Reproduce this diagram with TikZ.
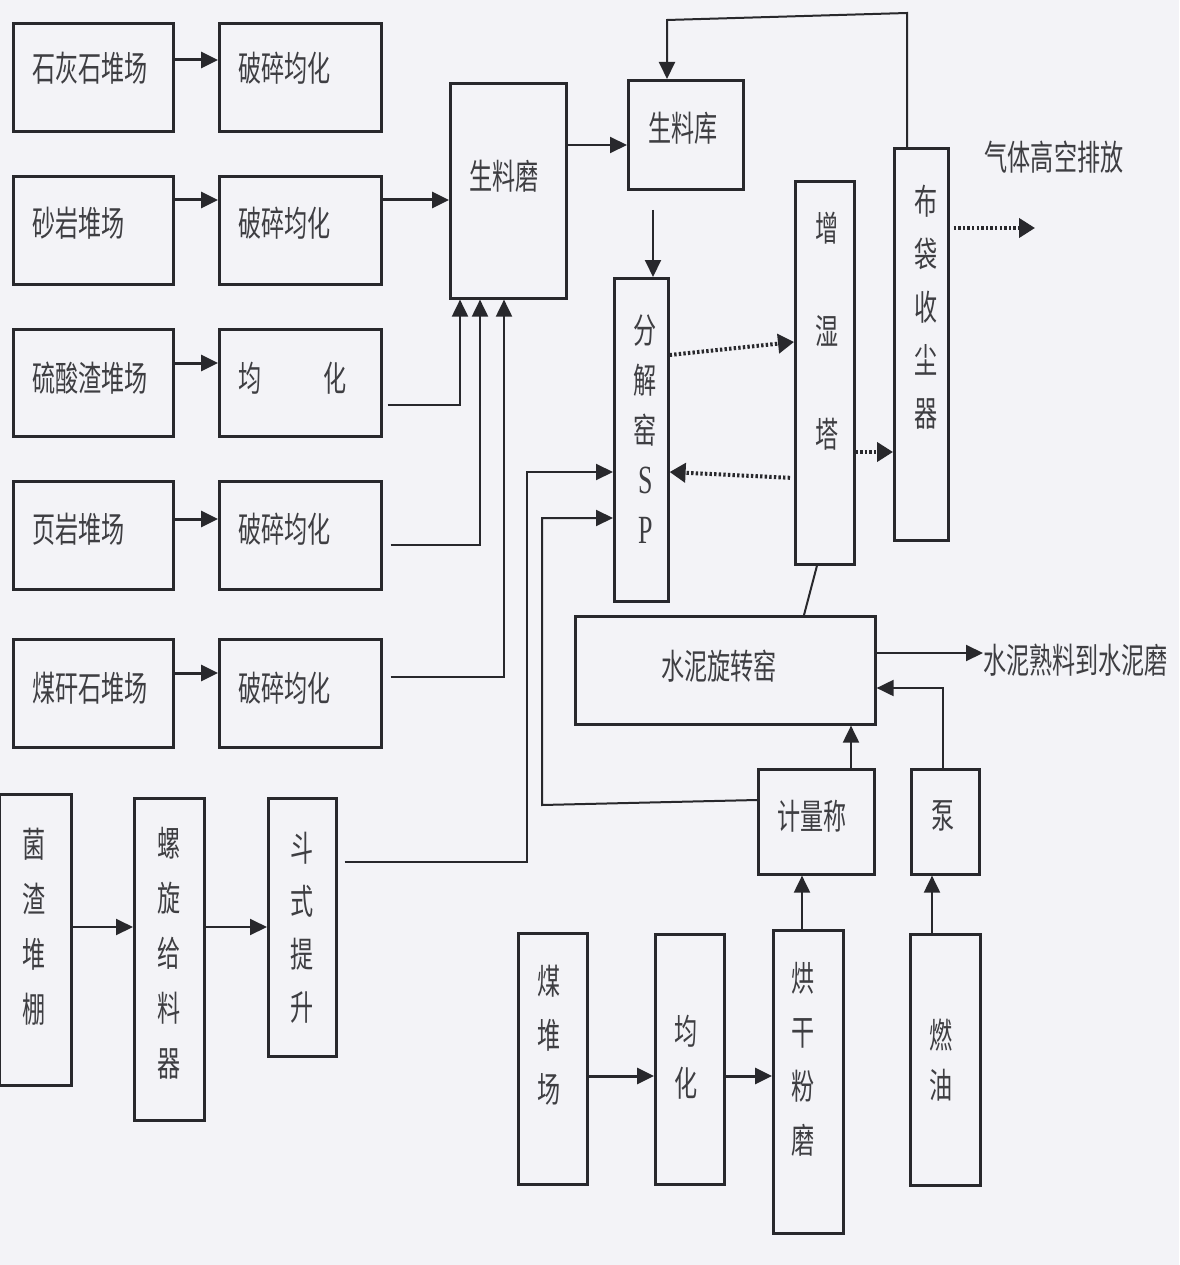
\documentclass[tikz,border=0pt]{standalone}
\usepackage{fontspec}
\usetikzlibrary{arrows.meta}
\newfontfamily\cjk[FakeStretch=0.66]{Noto Sans CJK SC}
\newfontfamily\latser[FakeStretch=0.65]{Liberation Serif}
\definecolor{ink}{RGB}{40,40,44}
\definecolor{txt}{RGB}{62,62,66}
\definecolor{paper}{RGB}{243,243,247}
\begin{document}
\begin{tikzpicture}[x=1pt,y=-1pt,
  box/.style={draw=ink, line width=2.6pt, rectangle, inner sep=0pt, anchor=north west},
  lbl/.style={text=txt, inner sep=0pt, font=\cjk\fontsize{35}{40}\selectfont},
  vt/.style={text=txt, inner sep=0pt, align=center, font=\cjk\fontsize{35}{#1}\selectfont},
  conn/.style={draw=ink, line width=2pt},
  arr/.style={conn, -{Triangle[length=17pt,width=16pt]}},
  thk/.style={arr, line width=3pt},
  dots/.style={draw=ink, line width=4pt, dash pattern=on 2.4pt off 2.2pt, -{Triangle[length=16pt,width=19pt]}},
]
\fill[paper] (0,0) rectangle (1179,1265);
\useasboundingbox (0,0) rectangle (1179,1265);

% left column: stockyards
\node[box, minimum width=160pt, minimum height=108pt, label={[lbl,anchor=west,xshift=20pt,yshift=9pt]west:石灰石堆场}] (s1) at (12,22) {};
\node[box, minimum width=160pt, minimum height=108pt, label={[lbl,anchor=west,xshift=20pt,yshift=7pt]west:砂岩堆场}] (s2) at (12,175) {};
\node[box, minimum width=160pt, minimum height=107pt, label={[lbl,anchor=west,xshift=20pt,yshift=4.5pt]west:硫酸渣堆场}] (s3) at (12,328) {};
\node[box, minimum width=160pt, minimum height=108pt, label={[lbl,anchor=west,xshift=20pt,yshift=6pt]west:页岩堆场}] (s4) at (12,480) {};
\node[box, minimum width=160pt, minimum height=108pt, label={[lbl,anchor=west,xshift=20pt,yshift=5pt]west:煤矸石堆场}] (s5) at (12,638) {};

% second column
\node[box, minimum width=162pt, minimum height=108pt, label={[lbl,anchor=west,xshift=20pt,yshift=9pt]west:破碎均化}] (b1) at (218,22) {};
\node[box, minimum width=162pt, minimum height=108pt, label={[lbl,anchor=west,xshift=20pt,yshift=7pt]west:破碎均化}] (b2) at (218,175) {};
\node[box, minimum width=162pt, minimum height=107pt, label={[lbl,anchor=west,xshift=20pt,yshift=4.5pt]west:{均\hskip 62pt 化}}] (b3) at (218,328) {};
\node[box, minimum width=162pt, minimum height=108pt, label={[lbl,anchor=west,xshift=20pt,yshift=6pt]west:破碎均化}] (b4) at (218,480) {};
\node[box, minimum width=162pt, minimum height=108pt, label={[lbl,anchor=west,xshift=20pt,yshift=5pt]west:破碎均化}] (b5) at (218,638) {};

% main line
\node[box, minimum width=116pt, minimum height=215pt, label={[lbl,xshift=-4pt,yshift=14.5pt]center:生料磨}] (mill) at (449,82) {};
\node[box, minimum width=115pt, minimum height=109pt, label={[lbl,xshift=-3pt,yshift=6.5pt]center:生料库}] (raw) at (627,79) {};
\node[box, minimum width=54pt, minimum height=323pt, label={[vt=50,xshift=4pt,yshift=10.5pt]center:{分\\解\\窑\\{\latser\fontsize{40}{50}\selectfont S}\\{\latser\fontsize{40}{50}\selectfont P}}}] (sp) at (613,277) {};
\node[box, minimum width=59pt, minimum height=383pt, label={[vt=103,xshift=2pt,yshift=41.5pt]center:{增\\湿\\塔}}] (hum) at (794,180) {};
\node[box, minimum width=54pt, minimum height=392pt, label={[vt=53,xshift=5pt,yshift=37pt]center:{布\\袋\\收\\尘\\器}}] (bag) at (893,147) {};
\node[lbl] (gas) at (1054,157) {气体高空排放};
\coordinate (gasEnd) at (1035,228);
\node[box, minimum width=300pt, minimum height=108pt, label={[lbl,xshift=-6pt,yshift=4pt]center:水泥旋转窑}] (kiln) at (574,615) {};
\node[lbl, anchor=west] (clinker) at (983,660) {水泥熟料到水泥磨};
\node[box, minimum width=116pt, minimum height=105pt, label={[lbl,xshift=-4pt,yshift=5.5pt]center:计量称}] (scale) at (757,768) {};
\node[box, minimum width=68pt, minimum height=105pt, label={[lbl,xshift=-2pt,yshift=5.5pt]center:泵}] (pump) at (910,768) {};

% fungal residue line
\node[box, minimum width=72pt, minimum height=291pt, label={[vt=55,xshift=-1pt,yshift=13.5pt]center:{菌\\渣\\堆\\棚}}] (fungal) at (-2,793) {};
\node[box, minimum width=70pt, minimum height=322pt, label={[vt=55,yshift=6.5pt]center:{螺\\旋\\给\\料\\器}}] (screw) at (133,797) {};
\node[box, minimum width=68pt, minimum height=258pt, label={[vt=53,yshift=0pt]center:{斗\\式\\提\\升}}] (lift) at (267,797) {};

% coal / oil line
\node[box, minimum width=69pt, minimum height=251pt, label={[vt=54,xshift=-3.5pt,yshift=23.5pt]center:{煤\\堆\\场}}] (coal) at (517,932) {};
\node[box, minimum width=69pt, minimum height=250pt, label={[vt=52,xshift=-3.5pt,yshift=2pt]center:{均\\化}}] (hom) at (654,933) {};
\node[box, minimum width=70pt, minimum height=303pt, label={[vt=54,xshift=-5pt,yshift=22.5pt]center:{烘\\干\\粉\\磨}}] (dry) at (772,929) {};
\node[box, minimum width=70pt, minimum height=251pt, label={[vt=50,xshift=-4pt,yshift=0pt]center:{燃\\油}}] (oil) at (909,933) {};

% stockyard -> crushing
\draw[thk] (s1.east |- 0,60) -- (b1.west |- 0,60);
\draw[thk] (s2.east |- 0,200) -- (b2.west |- 0,200);
\draw[thk] (s3.east |- 0,363) -- (b3.west |- 0,363);
\draw[thk] (s4.east |- 0,519) -- (b4.west |- 0,519);
\draw[thk] (s5.east |- 0,673) -- (b5.west |- 0,673);

% crushing -> raw mill
\draw[thk] (b2.east |- 0,200) -- (mill.west |- 0,200);
\coordinate (m3) at (460,405);
\coordinate (m4) at (480,545);
\coordinate (m5) at (504,677);
\draw[arr, shorten <=5pt] (b3.east |- m3) -- (m3) -- (mill.south -| m3);
\draw[arr, shorten <=8pt] (b4.east |- m4) -- (m4) -- (mill.south -| m4);
\draw[arr, shorten <=8pt] (b5.east |- m5) -- (m5) -- (mill.south -| m5);

% raw mill -> silo -> precalciner
\draw[arr] (mill.east |- 0,145) -- (raw.west |- 0,145);
\coordinate (dn) at (653,210);
\draw[arr] (dn) -- (sp.north -| dn);
\coordinate (loopR) at (907,13);
\coordinate (loopL) at (667,20);
\draw[arr] (bag.north -| loopR) -- (loopR) -- (loopL) -- (raw.north -| loopL);

% gas flow (dotted)
\draw[dots] (sp.east |- 0,355) -- (hum.west |- 0,342);
\draw[dots, shorten <=4pt] (hum.west |- 0,478) -- (sp.east |- 0,472);
\draw[dots] (hum.east |- 0,452) -- (bag.west |- 0,452);
\draw[dots, shorten <=4pt] (bag.east |- gasEnd) -- (gasEnd);

% tower -> kiln
\draw[conn] (hum.south -| 817,0) -- (kiln.north -| 804,0);
\draw[arr] (kiln.east |- 0,653) -- (clinker.west |- 0,653);

% scale, pump
\draw[arr] (scale.north -| 851,0) -- (kiln.south -| 851,0);
\coordinate (sc1) at (542,805);
\coordinate (sc2) at (542,518);
\draw[arr] (scale.west |- 0,800) -- (sc1) -- (sc2) -- (sp.west |- sc2);
\coordinate (pp) at (943,688);
\draw[arr] (pump.north -| pp) -- (pp) -- (kiln.east |- pp);

% fungal residue line
\draw[arr] (fungal.east |- 0,927) -- (screw.west |- 0,927);
\draw[arr] (screw.east |- 0,927) -- (lift.west |- 0,927);
\coordinate (lf1) at (527,862);
\coordinate (lf2) at (527,472);
\draw[arr, shorten <=7pt] (lift.east |- lf1) -- (lf1) -- (lf2) -- (sp.west |- lf2);

% coal line
\draw[thk] (coal.east |- 0,1076) -- (hom.west |- 0,1076);
\draw[thk] (hom.east |- 0,1076) -- (dry.west |- 0,1076);
\draw[arr] (dry.north -| 802,0) -- (scale.south -| 802,0);
\draw[arr] (oil.north -| 932,0) -- (pump.south -| 932,0);
\end{tikzpicture}
\end{document}
